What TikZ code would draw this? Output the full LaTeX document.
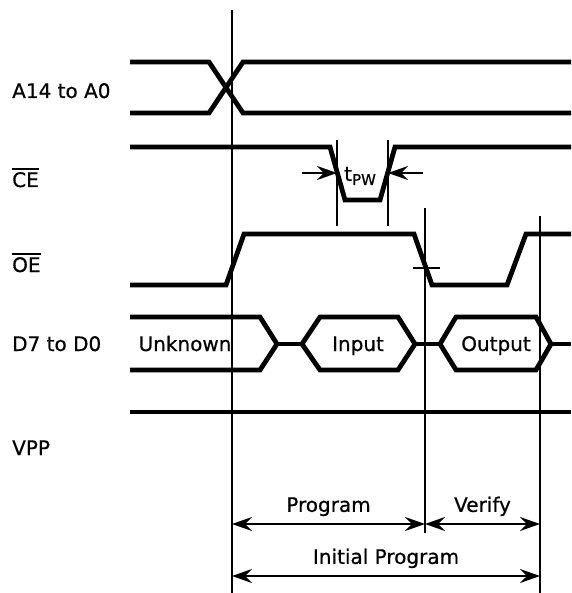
\documentclass[tikz,border=0pt]{standalone}
\usepackage{fontspec}
\setmainfont{DejaVu Sans}[FakeBold=0.6]
\usetikzlibrary{arrows.meta}
\newcommand{\activelow}[1]{\setbox0\hbox{#1}\rlap{\rule[\dimexpr\ht0+2pt\relax]{\wd0}{1.8pt}}\box0}
\begin{document}
\begin{tikzpicture}[x=1pt,y=-1pt,
	sig/.style={line width=4.8pt, line join=miter},
	guide/.style={line width=1.9pt},
	dim/.style={line width=1.9pt, {Stealth[length=20pt,width=14pt,inset=7pt]}-{Stealth[length=20pt,width=14pt,inset=7pt]}},
	tip/.style={line width=1.9pt, -{Stealth[length=20pt,width=14pt,inset=7pt]}},
	lbl/.style={font=\fontsize{20}{24}\selectfont, inner sep=0pt}
	]
	\useasboundingbox (0,0) rectangle (571,593);
	% signal names
	\node[lbl,anchor=base west] (addr) at (12,98) {A14 to A0};
	\node[lbl,anchor=base west] (ce) at (12,187) {\activelow{CE}};
	\node[lbl,anchor=base west] (oe) at (12,272) {\activelow{OE}};
	\node[lbl,anchor=base west] (data) at (12,351) {D7 to D0};
	\node[lbl,anchor=base west] (vpp) at (12,455) {VPP};
	% guide lines
	\coordinate (g1) at (232,10);
	\coordinate (g1e) at (232,593);
	\coordinate (g2) at (425,208);
	\coordinate (g2e) at (425,533);
	\coordinate (g3) at (540,216);
	\coordinate (g3e) at (540,593);
	\draw[guide] (g1) -- (g1e);
	\draw[guide] (g2) -- (g2e);
	\draw[guide] (g3) -- (g3e);
	\draw[guide] (337,140) -- (337,226);
	\draw[guide] (388,140) -- (388,226);
	\draw[guide] (413,268) -- (440,268);
	% A14 to A0
	\draw[sig] (130,62) -- (209,62) -- (243,113) -- (571,113);
	\draw[sig] (130,113) -- (209,113) -- (243,62) -- (571,62);
	% CE
	\draw[sig] (130,147) -- (330,147) -- (345,200) -- (380,200) -- (395,147) -- (571,147);
	\draw[tip] (302,173) -- (337,173);
	\draw[tip] (423,173) -- (388,173);
	\node[lbl,anchor=base west] (tpw) at (344,181) {t\raisebox{-4pt}{\fontsize{15}{17}\selectfont PW}};
	% OE
	\draw[sig] (130,285) -- (226,285) -- (244,234) -- (414,234) -- (432,285) -- (507,285) -- (526,234) -- (571,234);
	% D7 to D0
	\draw[sig] (130,317) -- (260,317) -- (277,344) -- (260,370) -- (130,370);
	\draw[sig] (277,344) -- (302,344);
	\draw[sig] (302,344) -- (320,317) -- (398,317) -- (415,344) -- (398,370) -- (320,370) -- cycle;
	\draw[sig] (415,344) -- (440,344);
	\draw[sig] (440,344) -- (456,317) -- (536,317) -- (551,344) -- (536,370) -- (456,370) -- cycle;
	\draw[sig] (551,344) -- (571,344);
	\node[lbl,anchor=base] (unk) at (185,351) {Unknown};
	\node[lbl,anchor=base] (inp) at (358,351) {Input};
	\node[lbl,anchor=base] (outp) at (496,351) {Output};
	% VPP
	\draw[sig] (130,412) -- (571,412);
	% intervals
	\coordinate (p1) at (232,524);
	\coordinate (p2) at (425,524);
	\coordinate (p3) at (540,524);
	\coordinate (q1) at (232,576);
	\coordinate (q2) at (540,576);
	\draw[dim] (p1) -- node[lbl,above=7pt] (prog) {Program} (p2);
	\draw[dim] (p2) -- node[lbl,above=7pt] (ver) {Verify} (p3);
	\draw[dim] (q1) -- node[lbl,above=7pt] (init) {Initial Program} (q2);
\end{tikzpicture}
\end{document}
